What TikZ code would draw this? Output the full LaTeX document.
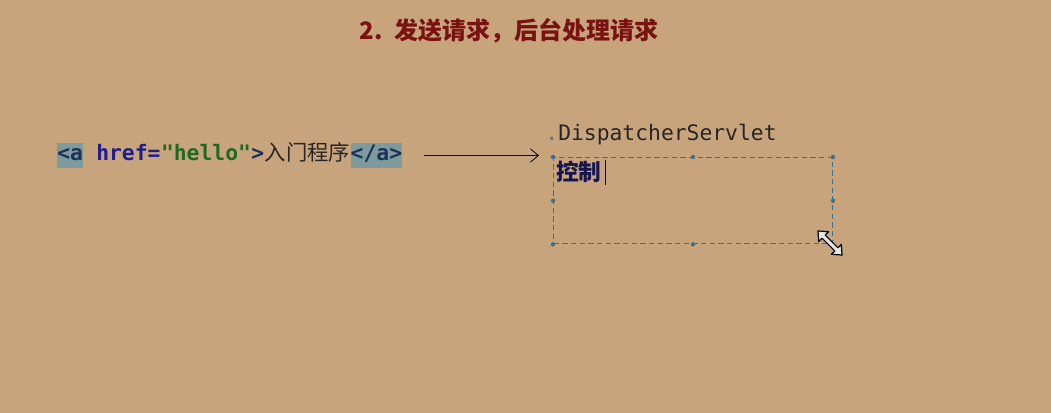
\documentclass[tikz,border=0pt]{standalone}
\usepackage{fontspec}
\usepackage{tikz}
\usetikzlibrary{positioning,arrows.meta}
\setmonofont{DejaVu Sans Mono}
\newfontfamily\cjk{Noto Sans CJK SC}

\definecolor{bgtan}{HTML}{C8A47C}
\definecolor{titlered}{HTML}{7A1212}
\definecolor{taggray}{HTML}{7E9A9C}
\definecolor{tagblue}{HTML}{1C3158}
\definecolor{attrblue}{HTML}{1E1E8C}
\definecolor{strgreen}{HTML}{1E6A1E}
\definecolor{boxblue}{HTML}{3A7090}
\definecolor{ctrlnavy}{HTML}{16164E}
\definecolor{markgray}{HTML}{6E6E6E}

\tikzset{
  code/.style={inner sep=0pt, font=\fontsize{16}{18}\selectfont\ttfamily\bfseries},
  tag/.style={code, fill=taggray, text=tagblue, text height=13.5pt, text depth=5.25pt},
  ctrlbox/.style={draw=boxblue, dash pattern=on 4pt off 2.5pt, line width=1pt,
    minimum width=209pt, minimum height=64.5pt, inner sep=0pt},
  handle/.style={fill=boxblue},
}

\begin{document}
\begin{tikzpicture}[x=0.75pt,y=-0.75pt]
	
	\fill[bgtan] (0,0) rectangle (1051,413);
	\useasboundingbox (0,0) rectangle (1051,413);
	
	\node[text=titlered, font=\fontsize{18}{20}\selectfont\cjk\bfseries] (title) at (509,31) {2.\ \ 发送请求，后台处理请求};
	
	% link in the page
	\node[tag, anchor=base west] (opentag) at (57,161) {<a};
	\node[code, text=attrblue, base right=9.6pt of opentag] (attr) {href=};
	\node[code, text=strgreen, base right=0pt of attr] (hello) {"hello"};
	\node[code, text=tagblue, base right=0pt of hello] (gt) {>};
	\node[inner sep=0pt, text=black!85, font=\fontsize{16}{18}\selectfont\cjk, base right=0pt of gt] (label) {入门程序};
	\node[tag, base right=0pt of label] (closetag) {</a>};
	
	% servlet
	\node[text=black!85, font=\fontsize{16}{18}\selectfont\ttfamily, inner sep=0pt, anchor=base west] (servlet) at (558,141) {\llap{\color{markgray}.}DispatcherServlet};
	\node[ctrlbox, anchor=north west] (ctrl) at (553,157) {};
	\node[text=ctrlnavy, font=\fontsize{17}{19}\selectfont\cjk\bfseries, inner sep=0pt, anchor=north west] (ctrltext) at (556,161) {控制};
	\draw[black, line width=0.6pt] ([xshift=2.5pt,yshift=1pt]ctrltext.north east) -- ([xshift=2.5pt,yshift=-1pt]ctrltext.south east);
	\foreach \pos in {north west,north,north east,west,east,south west,south}
		\fill[handle] (ctrl.\pos) circle (2.2);
	
	\coordinate (arrowtip) at (539,155);
	\draw[line width=0.6pt, -{Straight Barb[length=6pt,width=10pt]}, shorten <=16.5pt] (closetag.east) -- (arrowtip |- closetag.east);
	
	% resize cursor
	\begin{scope}[shift={(830,243)}, rotate=-45]
		\draw[fill=white!80!gray, line width=0.9pt, line join=round]
			(-17,0) -- (-9,7) -- (-9,2.2) -- (9,2.2) -- (9,7) -- (17,0) -- (9,-7) -- (9,-2.2) -- (-9,-2.2) -- (-9,-7) -- cycle;
	\end{scope}
	
\end{tikzpicture}
\end{document}
